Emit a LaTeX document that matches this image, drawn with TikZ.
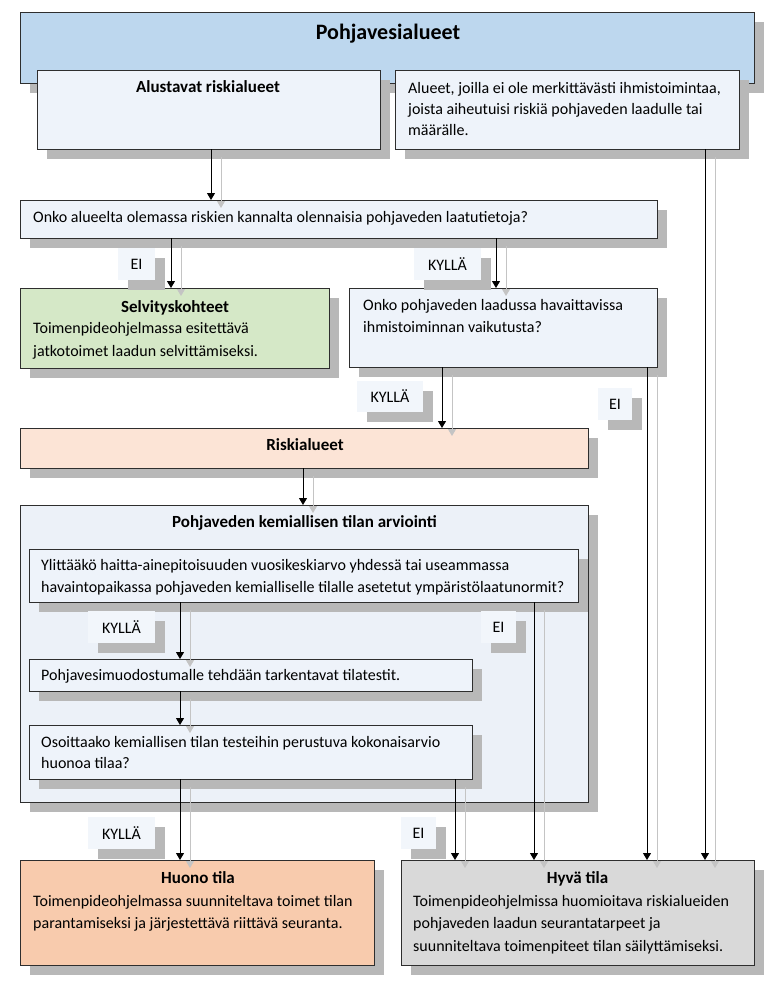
\documentclass[tikz,border=0pt]{standalone}
\usepackage{fontspec}
\setmainfont{Carlito}
\usetikzlibrary{arrows.meta,shadows}
\definecolor{topblue}{HTML}{BDD7EE}
\definecolor{lightbox}{HTML}{EEF3FA}
\definecolor{kembox}{HTML}{ECF1F8}
\definecolor{lblfill}{HTML}{F2F6FB}
\definecolor{greenbox}{HTML}{D5E8C7}
\definecolor{riskbox}{HTML}{FCE4D6}
\definecolor{badbox}{HTML}{F8CBAD}
\definecolor{goodbox}{HTML}{D9D9D9}
\definecolor{shd}{HTML}{B8B8B8}
\definecolor{shdline}{HTML}{C4C4C4}
\definecolor{edge}{HTML}{2E2E2E}
\begin{document}
\begin{tikzpicture}[x=1pt,y=-1pt,
  box/.style={draw=edge, line width=1pt, inner sep=0pt, outer sep=0pt,
    drop shadow={shadow xshift=10pt, shadow yshift=-10pt, fill=shd, opacity=1, draw=none}},
  lbl/.style={fill=lblfill, inner sep=0pt, outer sep=0pt, font=\fontsize{16}{18}\selectfont,
    drop shadow={shadow xshift=10pt, shadow yshift=-10pt, fill=shd, opacity=1, draw=none}},
  txt/.style={inner sep=0pt, anchor=base west, font=\fontsize{16}{18}\selectfont},
  ttl/.style={inner sep=0pt, anchor=base, font=\fontsize{17}{20}\selectfont\bfseries},
  arr/.style={draw=black, line width=1pt, -{Triangle[width=8pt,length=7pt]}},
  sarr/.style={draw=shdline, line width=1pt, -{Triangle[width=8pt,length=7pt]},
    transform canvas={shift={(10,8)}}}
]
\useasboundingbox[fill=white] (0,0) rectangle (779,985);

% boxes
\node[box, fill=topblue, minimum width=734pt, minimum height=71pt] (top) at (387,47.5) {};
\node[box, fill=lightbox, minimum width=343pt, minimum height=79pt] (alust) at (208.5,109.5) {};
\node[box, fill=lightbox, minimum width=344pt, minimum height=79pt] (alueet) at (567,109.5) {};
\node[box, fill=lightbox, minimum width=637pt, minimum height=38pt] (q1) at (338.5,219) {};
\node[box, fill=greenbox, minimum width=309pt, minimum height=80pt] (selv) at (174.5,328) {};
\node[box, fill=lightbox, minimum width=308pt, minimum height=79pt] (q2) at (503,327.5) {};
\node[box, fill=riskbox, minimum width=568pt, minimum height=40pt] (risk) at (304,448) {};
\node[box, fill=kembox, minimum width=568pt, minimum height=297pt] (kem) at (304,653.5) {};
\node[box, fill=lightbox, minimum width=549pt, minimum height=53pt] (q3) at (303.5,575.5) {};
\node[box, fill=lightbox, minimum width=443pt, minimum height=32pt] (q4) at (250.5,675) {};
\node[box, fill=lightbox, minimum width=443pt, minimum height=54pt] (q5) at (250.5,752) {};
\node[box, fill=badbox, minimum width=354pt, minimum height=105pt] (huono) at (197,912.5) {};
\node[box, fill=goodbox, minimum width=353pt, minimum height=105pt] (hyva) at (577.5,912.5) {};

% texts
\node[inner sep=0pt, anchor=base, font=\fontsize{22}{26}\selectfont\bfseries] (ttop) at (388,39) {Pohjavesialueet};
\node[ttl] (talust) at (208,92) {Alustavat riskialueet};
\node[txt] (tal1) at (408,93) {Alueet, joilla ei ole merkittävästi ihmistoimintaa,};
\node[txt] (tal2) at (408,114) {joista aiheutuisi riskiä pohjaveden laadulle tai};
\node[txt] (tal3) at (408,135) {määrälle.};
\node[txt] (tq1) at (33,222) {Onko alueelta olemassa riskien kannalta olennaisia pohjaveden laatutietoja?};
\node[ttl] (tselv) at (175,312) {Selvityskohteet};
\node[txt] (ts1) at (33,333) {Toimenpideohjelmassa esitettävä};
\node[txt] (ts2) at (33,356) {jatkotoimet laadun selvittämiseksi.};
\node[txt] (tq2a) at (363,310) {Onko pohjaveden laadussa havaittavissa};
\node[txt] (tq2b) at (363,332) {ihmistoiminnan vaikutusta?};
\node[ttl] (trisk) at (305,450) {Riskialueet};
\node[ttl] (tkem) at (304.5,527) {Pohjaveden kemiallisen tilan arviointi};
\node[txt] (tq3a) at (41,570) {Ylittääkö haitta-ainepitoisuuden vuosikeskiarvo yhdessä tai useammassa};
\node[txt] (tq3b) at (41,592) {havaintopaikassa pohjaveden kemialliselle tilalle asetetut ympäristölaatunormit?};
\node[txt] (tq4) at (41,680) {Pohjavesimuodostumalle tehdään tarkentavat tilatestit.};
\node[txt] (tq5a) at (41,747) {Osoittaako kemiallisen tilan testeihin perustuva kokonaisarvio};
\node[txt] (tq5b) at (41,768) {huonoa tilaa?};
\node[ttl] (thuono) at (198,883) {Huono tila};
\node[txt] (th1) at (33,906) {Toimenpideohjelmassa suunniteltava toimet tilan};
\node[txt] (th2) at (33,928) {parantamiseksi ja järjestettävä riittävä seuranta.};
\node[ttl] (thyva) at (577.5,883) {Hyvä tila};
\node[txt] (tg1) at (413,906) {Toimenpideohjelmissa huomioitava riskialueiden};
\node[txt] (tg2) at (413,928) {pohjaveden laadun seurantatarpeet ja};
\node[txt] (tg3) at (413,951) {suunniteltava toimenpiteet tilan säilyttämiseksi.};

% x positions of connectors
\coordinate (x211) at (211,0);
\coordinate (x171) at (171,0);
\coordinate (x496) at (496,0);
\coordinate (x442) at (442,0);
\coordinate (x303) at (303,0);
\coordinate (x180) at (180,0);
\coordinate (x455) at (455,0);
\coordinate (x534) at (534,0);
\coordinate (x647) at (647,0);
\coordinate (x705) at (705,0);

% connector shadows
\foreach \s/\t/\xx in {alust/q1/x211, q1/selv/x171, q1/q2/x496, q2/risk/x442, risk/kem/x303,
  q3/q4/x180, q4/q5/x180, q5/huono/x180, q5/hyva/x455, q3/hyva/x534, q2/hyva/x647, alueet/hyva/x705}
  \draw[sarr] (\s.south -| \xx) -- (\t.north -| \xx);
% connectors
\foreach \s/\t/\xx in {alust/q1/x211, q1/selv/x171, q1/q2/x496, q2/risk/x442, risk/kem/x303,
  q3/q4/x180, q4/q5/x180, q5/huono/x180, q5/hyva/x455, q3/hyva/x534, q2/hyva/x647, alueet/hyva/x705}
  \draw[arr] (\s.south -| \xx) -- (\t.north -| \xx);

% labels
\node[lbl, minimum width=37pt, minimum height=32pt] (e1) at (136.5,264) {EI};
\node[lbl, minimum width=67pt, minimum height=32pt] (k1) at (447.5,264) {KYLLÄ};
\node[lbl, minimum width=66pt, minimum height=31pt] (k2) at (390,396.5) {KYLLÄ};
\node[lbl, minimum width=34pt, minimum height=32pt] (e2) at (615,404) {EI};
\node[lbl, minimum width=67pt, minimum height=32pt] (k3) at (121.5,627) {KYLLÄ};
\node[lbl, minimum width=35pt, minimum height=32pt] (e3) at (498.5,627) {EI};
\node[lbl, minimum width=67pt, minimum height=32pt] (k4) at (121.5,833) {KYLLÄ};
\node[lbl, minimum width=35pt, minimum height=32pt] (e4) at (418.5,833) {EI};
\end{tikzpicture}
\end{document}
